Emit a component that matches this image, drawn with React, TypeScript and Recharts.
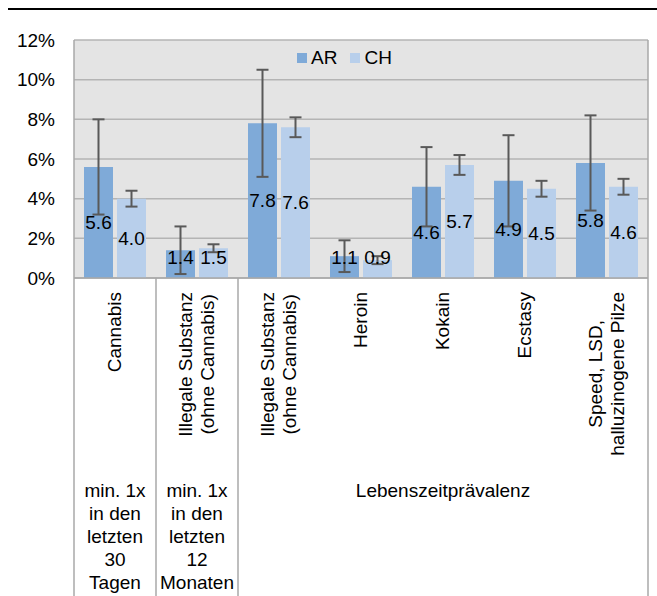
import React from 'react';
import {
  BarChart,
  Bar,
  XAxis,
  YAxis,
  CartesianGrid,
  Legend,
  ErrorBar,
  LabelList } from
'recharts';

const categories = [
'Cannabis',
'Illegale Substanz\n(ohne Cannabis)',
'Illegale Substanz\n(ohne Cannabis)',
'Heroin',
'Kokain',
'Ecstasy',
'Speed, LSD,\nhalluzinogene Pilze'];

const groupLabels = [
'min. 1x\nin den\nletzten\n30\nTagen',
'min. 1x\nin den\nletzten\n12\nMonaten',
'Lebenszeitprävalenz'];

const groupSpans = [1, 1, 5];

const arValues = [5.6, 1.4, 7.8, 1.1, 4.6, 4.9, 5.8];
const chValues = [4.0, 1.5, 7.6, 0.9, 5.7, 4.5, 4.6];
const arErrors = [2.4, 1.2, 2.7, 0.8, 2.0, 2.3, 2.4];
const chErrors = [0.4, 0.2, 0.5, 0.2, 0.5, 0.4, 0.4];

const yTicks = [0, 2, 4, 6, 8, 10, 12];

const data = categories.map((_, i) => ({
  idx: i,
  AR: arValues[i],
  CH: chValues[i],
  arErr: arErrors[i],
  chErr: chErrors[i]
}));

const W = 657;
const H = 596;
const PLOT_TOP = 40;
const PLOT_LEFT = 74;
const PLOT_RIGHT = 9;
const X_AXIS_H = 318;
const BAND = (W - PLOT_LEFT - PLOT_RIGHT) / categories.length;
const FONT = '"Liberation Sans", Arial, sans-serif';
const BORDER = '#a9a9a9';

let ctx: CanvasRenderingContext2D | null = null;
function textWidth(s: string) {
  if (!ctx) ctx = document.createElement('canvas').getContext('2d');
  if (!ctx) return s.length * 10;
  ctx.font = `19px ${FONT}`;
  return ctx.measureText(s).width;
}

// start index of each group of categories
const groupStarts = groupSpans.map((_, g) => groupSpans.slice(0, g).reduce((a, b) => a + b, 0));

function CategoryTick(props: any) {
  const { x, y, payload } = props;
  const i = Number(payload.value);
  const lines = categories[i].split('\n');
  const blockLen = Math.max(...lines.map(textWidth));
  const midY = y + 14 + blockLen / 2;
  const g = groupStarts.indexOf(i);
  const els: React.ReactNode[] = [];

  lines.forEach((line, k) => {
    const lx = x + (k - (lines.length - 1) / 2) * 22;
    els.push(
      <text key={'c' + k} x={lx} y={midY} transform={`rotate(-90 ${lx} ${midY})`}
      textAnchor="middle" dominantBaseline="central" fontSize={19} fontFamily={FONT} fill="#000">
        {line}
      </text>
    );
  });

  if (g >= 0) {
    const left = x - BAND / 2;
    els.push(<line key="dl" x1={left} x2={left} y1={i === 0 ? PLOT_TOP : y} y2={H} stroke={BORDER} strokeWidth={1.5} />);
    const gx = x + (groupSpans[g] - 1) * BAND / 2;
    groupLabels[g].split('\n').forEach((line, k) => {
      els.push(
        <text key={'g' + k} x={gx} y={y + 212 + k * 23} textAnchor="middle" dominantBaseline="central"
        fontSize={19} fontFamily={FONT} fill="#000">
          {line}
        </text>
      );
    });
  }
  if (i === categories.length - 1) {
    const right = x + BAND / 2;
    els.push(<line key="dr" x1={right} x2={right} y1={PLOT_TOP} y2={H} stroke={BORDER} strokeWidth={1.5} />);
  }
  return <g>{els}</g>;
}

const renderValueLabel = (props: any) => {
  const { x, y, width, height, value } = props;
  const cx = Number(x) + Number(width) / 2;
  const bottom = Number(y) + Number(height);
  const cy = Math.min(Number(y) + Number(height) / 2, bottom - 21);
  return (
    <text x={cx} y={cy} textAnchor="middle" dominantBaseline="central" fontSize={19} fontFamily={FONT} fill="#000">
      {Number(value).toFixed(1)}
    </text>);

};

const renderLegend = (props: any) =>
<div style={{ display: 'flex', fontFamily: FONT, fontSize: 19, color: '#000' }}>
    {(props.payload || []).map((entry: any, i: number) =>
  <div key={i} style={{ display: 'flex', alignItems: 'center', height: 20, marginRight: 13 }}>
        <span style={{ width: 10, height: 10, background: entry.color, display: 'inline-block', marginRight: 4 }} />
        <span>{entry.value}</span>
      </div>
  )}
  </div>;


export default function App() {
  return (
    <div style={{ position: 'absolute', left: 0, top: 0, width: W, height: H, background: '#fff' }}>
      <div style={{ position: 'absolute', left: 8, top: 8, width: W - 8, height: 2, background: '#000' }} />
      <BarChart
        width={W}
        height={H}
        data={data}
        margin={{ top: PLOT_TOP, right: PLOT_RIGHT, bottom: 0, left: 0 }}
        barCategoryGap={10}
        barGap={4}>
        
        <CartesianGrid vertical={false} fill="#e4e4e4" stroke="#b4b4b4" strokeWidth={1.5} />
        <XAxis
          dataKey="idx"
          type="category"
          height={X_AXIS_H}
          interval={0}
          tickLine={false}
          tickSize={0}
          tickMargin={0}
          axisLine={{ stroke: BORDER, strokeWidth: 1.5 }}
          tick={<CategoryTick />} />
        
        <YAxis
          width={PLOT_LEFT}
          domain={[0, 12]}
          ticks={yTicks}
          tickFormatter={(v: number) => `${v}%`}
          axisLine={false}
          tickLine={false}
          tickSize={0}
          tickMargin={19}
          tick={{ fill: '#000', fontSize: 19, fontFamily: FONT }} />
        
        <Legend
          layout="horizontal"
          verticalAlign="middle"
          align="center"
          content={renderLegend}
          wrapperStyle={{ top: 48, left: 297, width: 'auto' }} />
        
        <Bar dataKey="AR" name="AR" fill="#7faad8" isAnimationActive={false}>
          <ErrorBar dataKey="arErr" width={6} stroke="#595959" strokeWidth={2} direction="y" />
          <LabelList dataKey="AR" content={renderValueLabel} />
        </Bar>
        <Bar dataKey="CH" name="CH" fill="#b8cfeb" isAnimationActive={false}>
          <ErrorBar dataKey="chErr" width={6} stroke="#595959" strokeWidth={2} direction="y" />
          <LabelList dataKey="CH" content={renderValueLabel} />
        </Bar>
      </BarChart>
    </div>);

}
